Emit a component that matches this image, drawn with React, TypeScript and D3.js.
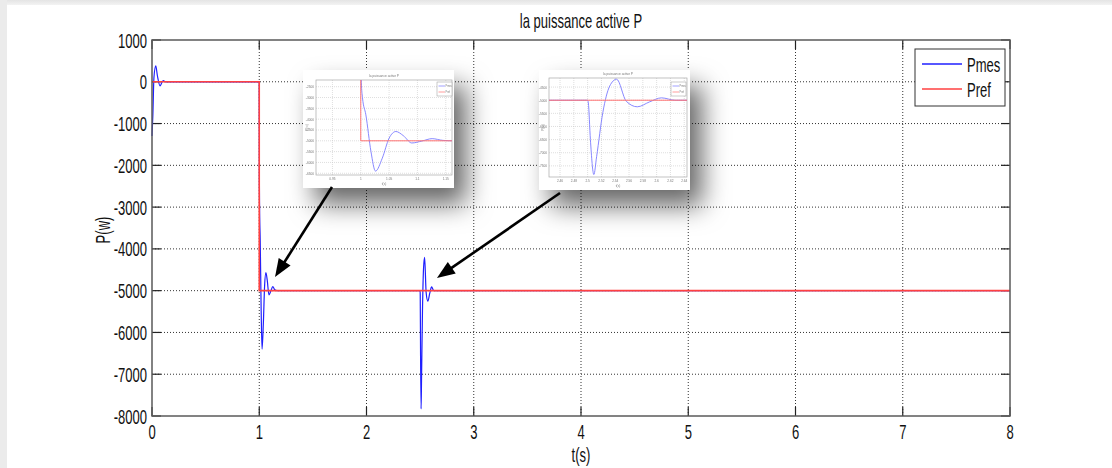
import React, { useEffect, useRef } from 'react';
import * as d3 from 'd3';

const W = 1112;
const H = 468;

// main axes
const xTicks = [0, 1, 2, 3, 4, 5, 6, 7, 8];
const yTicks = [1000, 0, -1000, -2000, -3000, -4000, -5000, -6000, -7000, -8000];

const pmesTime = [
  0, 0.008, 0.018, 0.035, 0.05, 0.075, 0.09, 0.105, 0.125,
  1.0, 1.001, 1.003, 1.009, 1.018, 1.026, 1.038, 1.05, 1.062, 1.075, 1.09, 1.108, 1.126, 1.145, 1.165,
  2.5, 2.501, 2.504, 2.509, 2.513, 2.522, 2.532, 2.542, 2.556, 2.572, 2.59, 2.607, 2.627, 2.66,
  8,
];
const pmesValue = [
  -1300, -800, 100, 380, 150, -100, -30, 30, 0,
  0, -2300, -3000, -3800, -5500, -6400, -5800, -4880, -4570, -4760, -5100, -5010, -4900, -4980, -5000,
  -5000, -5100, -6500, -7830, -7150, -5470, -4460, -4200, -5040, -5250, -5060, -4910, -5000, -5000,
  -5000,
];

// Pref (reference step)
const prefTime = [0, 1, 1, 8];
const prefValue = [0, 0, -5000, -5000];

const seriesNames = ['Pmes', 'Pref'];
const seriesColors = ['#1f1fff', '#ff4040'];

// zoomed insets
const zoom1XTicks = [0.95, 1, 1.05, 1.1, 1.15];
const zoom1YTicks = [-2500, -3000, -3500, -4000, -4500, -5000, -5500, -6000, -6500];
const zoom2XTicks = [2.46, 2.48, 2.5, 2.52, 2.54, 2.56, 2.58, 2.6, 2.62, 2.64];
const zoom2YTicks = [-4500, -5000, -5500, -6000, -6500, -7000, -7500];

const FONT = '"Liberation Sans", Arial, sans-serif';

function label(g, x, y, str, opts: any = {}) {
  const { size = 21, anchor = 'middle', rotate = 0, squeeze = 0.62, fill = '#111' } = opts;
  g.append('text')
    .attr('transform', `translate(${x},${y}) rotate(${rotate}) scale(${squeeze},1)`)
    .attr('text-anchor', anchor)
    .attr('font-family', FONT)
    .attr('font-size', size)
    .attr('fill', fill)
    .text(str);
}

function drawInset(root, cfg, idx) {
  const [bx, by, bw, bh] = cfg.box;
  const [pl, pt, pr, pb] = cfg.plot;
  root
    .append('rect')
    .attr('x', bx)
    .attr('y', by)
    .attr('width', bw)
    .attr('height', bh)
    .attr('fill', '#fff')
    .attr('filter', 'url(#shadow)');

  const g = root.append('g').attr('filter', 'url(#soft)');
  const ix = d3.scaleLinear().domain(cfg.xDomain).range([pl, pr]);
  const iy = d3.scaleLinear().domain(cfg.yDomain).range([pb, pt]);

  g.selectAll('.gx')
    .data(cfg.xTicks)
    .join('line')
    .attr('x1', (d) => ix(d))
    .attr('x2', (d) => ix(d))
    .attr('y1', pt)
    .attr('y2', pb)
    .attr('stroke', '#c8c8c8')
    .attr('stroke-width', 0.6)
    .attr('stroke-dasharray', '1,1');
  g.selectAll('.gy')
    .data(cfg.yTicks)
    .join('line')
    .attr('x1', pl)
    .attr('x2', pr)
    .attr('y1', (d) => iy(d))
    .attr('y2', (d) => iy(d))
    .attr('stroke', '#c8c8c8')
    .attr('stroke-width', 0.6)
    .attr('stroke-dasharray', '1,1');

  g.append('rect')
    .attr('x', pl)
    .attr('y', pt)
    .attr('width', pr - pl)
    .attr('height', pb - pt)
    .attr('fill', 'none')
    .attr('stroke', '#a8a8a8')
    .attr('stroke-width', 0.7);

  const clipId = 'insetclip' + idx;
  root
    .append('clipPath')
    .attr('id', clipId)
    .append('rect')
    .attr('x', pl)
    .attr('y', pt)
    .attr('width', pr - pl)
    .attr('height', pb - pt);

  const lines = g.append('g').attr('clip-path', `url(#${clipId})`);
  const pmesLine = d3
    .line<number>()
    .x((d, i) => ix(pmesTime[i]))
    .y((d) => iy(d))
    .curve(d3.curveMonotoneX);
  const prefLine = d3
    .line<number>()
    .x((d, i) => ix(prefTime[i]))
    .y((d) => iy(d));
  lines
    .append('path')
    .attr('d', pmesLine(pmesValue))
    .attr('fill', 'none')
    .attr('stroke', '#7a7aff')
    .attr('stroke-width', 0.9);
  lines
    .append('path')
    .attr('d', prefLine(prefValue))
    .attr('fill', 'none')
    .attr('stroke', '#ff7474')
    .attr('stroke-width', 1);

  cfg.xTicks.forEach((t) => label(g, ix(t), pb + 5, String(t), { size: 4, squeeze: 0.8, fill: '#777' }));
  cfg.yTicks.forEach((v) => label(g, pl - 2, iy(v) + 1.5, String(v), { size: 4, squeeze: 0.8, anchor: 'end', fill: '#777' }));
  label(g, (pl + pr) / 2, pt - 3, 'la puissance active P', { size: 4, squeeze: 0.8, fill: '#777' });
  label(g, (pl + pr) / 2, pb + 10, 't(s)', { size: 4, squeeze: 0.8, fill: '#777' });
  label(g, bx + 5, (pt + pb) / 2, 'P(w)', { size: 4, squeeze: 0.8, rotate: -90, fill: '#777' });

  const [lx, ly] = cfg.legend;
  g.append('rect')
    .attr('x', lx)
    .attr('y', ly)
    .attr('width', 15)
    .attr('height', 14)
    .attr('fill', '#fff')
    .attr('stroke', '#999')
    .attr('stroke-width', 0.5);
  seriesNames.forEach((name, i) => {
    const yy = ly + 4 + i * 6;
    g.append('line')
      .attr('x1', lx + 1.5)
      .attr('x2', lx + 8)
      .attr('y1', yy)
      .attr('y2', yy)
      .attr('stroke', i === 0 ? '#7a7aff' : '#ff7474')
      .attr('stroke-width', 0.7);
    label(g, lx + 8.5, yy + 1.3, name, { size: 3.5, squeeze: 0.7, anchor: 'start', fill: '#777' });
  });
}

function drawArrow(g, x0, y0, x1, y1) {
  const dx = x1 - x0;
  const dy = y1 - y0;
  const len = Math.hypot(dx, dy);
  const ux = dx / len;
  const uy = dy / len;
  const headL = 18;
  const headW = 7;
  const bx = x1 - ux * headL;
  const by = y1 - uy * headL;
  g.append('line')
    .attr('x1', x0)
    .attr('y1', y0)
    .attr('x2', bx + ux * 2)
    .attr('y2', by + uy * 2)
    .attr('stroke', '#000')
    .attr('stroke-width', 2.6);
  g.append('path')
    .attr('d', `M${x1},${y1}L${bx - uy * headW},${by + ux * headW}L${bx + uy * headW},${by - ux * headW}Z`)
    .attr('fill', '#000');
}

function App() {
  const svgRef = useRef<SVGSVGElement>(null);

  useEffect(() => {
    const svg = d3.select(svgRef.current);
    svg.selectAll('*').remove();

    const left = 152;
    const right = 1010;
    const top = 40;
    const bottom = 416;
    const x = d3.scaleLinear().domain([0, 8]).range([left, right]);
    const y = d3.scaleLinear().domain([-8000, 1000]).range([bottom, top]);

    const defs = svg.append('defs');
    const sh = defs
      .append('filter')
      .attr('id', 'shadow')
      .attr('x', '-50%')
      .attr('y', '-50%')
      .attr('width', '220%')
      .attr('height', '220%');
    sh.append('feDropShadow')
      .attr('dx', 12)
      .attr('dy', 16)
      .attr('stdDeviation', 13)
      .attr('flood-color', '#000')
      .attr('flood-opacity', 0.6);
    defs.append('filter').attr('id', 'soft').append('feGaussianBlur').attr('stdDeviation', 0.35);
    const grad = defs.append('linearGradient').attr('id', 'topband').attr('x1', 0).attr('y1', 0).attr('x2', 0).attr('y2', 1);
    grad.append('stop').attr('offset', '0%').attr('stop-color', '#e4e4e4');
    grad.append('stop').attr('offset', '100%').attr('stop-color', '#f3f3f3');

    svg.append('rect').attr('width', W).attr('height', H).attr('fill', '#fff');
    svg.append('rect').attr('width', W).attr('height', 5).attr('fill', 'url(#topband)');
    svg.append('rect').attr('width', 7).attr('height', H).attr('fill', '#ebebeb');

    // grid
    const grid = svg.append('g');
    grid
      .selectAll('.vx')
      .data(xTicks.slice(1, -1))
      .join('line')
      .attr('x1', (d) => x(d))
      .attr('x2', (d) => x(d))
      .attr('y1', top)
      .attr('y2', bottom)
      .attr('stroke', '#333')
      .attr('stroke-width', 1)
      .attr('stroke-dasharray', '1,2');
    grid
      .selectAll('.hy')
      .data(yTicks.slice(1, -1))
      .join('line')
      .attr('x1', left)
      .attr('x2', right)
      .attr('y1', (d) => y(d))
      .attr('y2', (d) => y(d))
      .attr('stroke', '#333')
      .attr('stroke-width', 1)
      .attr('stroke-dasharray', '1,2');

    // ticks (inward, on all four sides)
    const tl = 9;
    const ticks = svg.append('g').attr('stroke', '#222').attr('stroke-width', 1.2);
    xTicks.forEach((t) => {
      ticks.append('line').attr('x1', x(t)).attr('x2', x(t)).attr('y1', bottom).attr('y2', bottom - tl);
      ticks.append('line').attr('x1', x(t)).attr('x2', x(t)).attr('y1', top).attr('y2', top + tl);
    });
    yTicks.forEach((v) => {
      ticks.append('line').attr('x1', left).attr('x2', left + tl).attr('y1', y(v)).attr('y2', y(v));
      ticks.append('line').attr('x1', right).attr('x2', right - tl).attr('y1', y(v)).attr('y2', y(v));
    });

    // series
    const pmesLine = d3
      .line<number>()
      .x((d, i) => x(pmesTime[i]))
      .y((d) => y(d))
      .curve(d3.curveMonotoneX);
    const prefLine = d3
      .line<number>()
      .x((d, i) => x(prefTime[i]))
      .y((d) => y(d));
    svg.append('path')
      .attr('d', pmesLine(pmesValue))
      .attr('fill', 'none')
      .attr('stroke', seriesColors[0])
      .attr('stroke-width', 1.2);
    svg.append('path')
      .attr('d', prefLine(prefValue))
      .attr('fill', 'none')
      .attr('stroke', seriesColors[1])
      .attr('stroke-width', 1.6);

    // axes box
    svg.append('rect')
      .attr('x', left)
      .attr('y', top)
      .attr('width', right - left)
      .attr('height', bottom - top)
      .attr('fill', 'none')
      .attr('stroke', '#5a5a5a')
      .attr('stroke-width', 1.5);

    // tick labels
    const txt = svg.append('g');
    xTicks.forEach((t) => label(txt, x(t), bottom + 23, String(t)));
    yTicks.forEach((v) => label(txt, left - 5, y(v) + 7.5, String(v), { anchor: 'end' }));
    label(txt, (left + right) / 2, 28, 'la puissance active P');
    label(txt, (left + right) / 2, 462, 't(s)');
    label(txt, 110, (top + bottom) / 2 + 2, 'P(w)', { rotate: -90 });

    // legend
    const lg = svg.append('g');
    lg.append('rect')
      .attr('x', 915)
      .attr('y', 49)
      .attr('width', 90)
      .attr('height', 57)
      .attr('fill', '#fff')
      .attr('stroke', '#333')
      .attr('stroke-width', 1);
    seriesNames.forEach((name, i) => {
      const yy = 64 + i * 25;
      lg.append('line')
        .attr('x1', 922)
        .attr('x2', 962)
        .attr('y1', yy)
        .attr('y2', yy)
        .attr('stroke', seriesColors[i])
        .attr('stroke-width', 1.5);
      label(lg, 967, yy + 8, name, { anchor: 'start' });
    });

    // zoom insets
    const insets = [
      {
        box: [303, 70, 151, 118],
        plot: [316, 80, 452, 175],
        xDomain: [0.921, 1.161],
        yDomain: [-6580, -2190],
        xTicks: zoom1XTicks,
        yTicks: zoom1YTicks,
        legend: [437, 82],
      },
      {
        box: [539, 70, 151, 120],
        plot: [549, 78, 687, 177],
        xDomain: [2.444, 2.644],
        yDomain: [-7923, -4154],
        xTicks: zoom2XTicks,
        yTicks: zoom2YTicks,
        legend: [671, 82],
      },
    ];
    const ins = svg.append('g');
    insets.forEach((cfg, i) => drawInset(ins, cfg, i));

    // arrows pointing at the zoomed events
    const arr = svg.append('g');
    drawArrow(arr, 332, 187, x(1.147), y(-4673));
    drawArrow(arr, 560, 193, x(2.657), y(-4697));
  }, []);

  return <svg ref={svgRef} width={W} height={H} style={{ position: 'absolute', left: 0, top: 0 }} />;
}

export default App;
